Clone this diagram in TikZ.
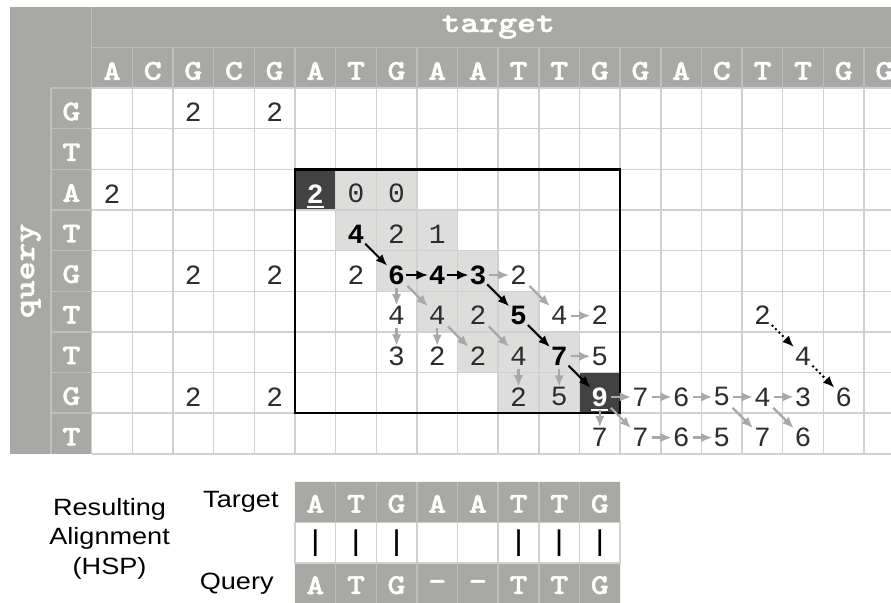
\documentclass[tikz,border=0pt]{standalone}
\usepackage{fontspec}
\setmainfont{Liberation Sans}[FakeStretch=1.15]
\setmonofont{Liberation Mono}
\newfontfamily\slabfont{lmmonolt10-bold.otf}[FakeStretch=1.2, FakeBold=1.6]
\usetikzlibrary{arrows.meta,positioning}
\definecolor{hdrGray}{RGB}{168,168,165}
\definecolor{hdrLine}{RGB}{190,190,187}
\definecolor{gridGray}{RGB}{208,208,208}
\definecolor{cellShade}{RGB}{221,221,219}
\definecolor{cellDark}{RGB}{66,66,64}
\definecolor{arrowGray}{RGB}{168,168,168}
\definecolor{numGray}{RGB}{45,45,45}
\newcommand{\hitmark}[1]{\setbox0=\hbox{#1}\rlap{\smash{\rule[-3.5pt]{\wd0}{1.4pt}}}\box0}

\begin{document}
\begin{tikzpicture}[x=1cm, y=-1cm,
    seqletter/.style={font=\slabfont\fontsize{20}{20}\selectfont, text=white, inner sep=1pt},
    seqname/.style={font=\slabfont\fontsize{21}{21}\selectfont, text=white, inner sep=1pt},
    cellnum/.style={font=\ttfamily\fontsize{19.5}{19.5}\selectfont, text=numGray, inner sep=0.5pt},
    pathnum/.style={cellnum, font=\ttfamily\bfseries\fontsize{19.5}{19.5}\selectfont, text=black},
    hitnum/.style={pathnum, text=white},
    pathstep/.style={-{Latex[length=2.8mm,width=2.3mm]}, line width=1.4pt},
    sidestep/.style={-{Latex[length=2.8mm,width=2.3mm]}, line width=1.6pt, color=arrowGray, shorten <=1.5pt},
    dotstep/.style={pathstep, dotted},
    matchbar/.style={font=\fontsize{20}{20}\selectfont, inner sep=0pt},
    sidetext/.style={font=\fontsize{16.5}{20.5}\selectfont, align=center}
  ]
  \useasboundingbox (-2.256,-2.165) rectangle (19.663,12.645);
  % header bands
  \fill[hdrGray] (-2,-2) rectangle (20,0);
  \fill[hdrGray] (-2,0) rectangle (0,9);
  \foreach \r/\c in {2/6, 2/7, 3/6, 3/7, 3/8, 4/7, 4/8, 4/9, 5/8, 5/9, 5/10,
                     6/9, 6/10, 6/11, 7/10, 7/11} {
    \fill[cellShade] (\c,\r) rectangle ++(1,1);
  }
  \foreach \r/\c in {2/5, 7/12} {
    \fill[cellDark] (\c,\r) rectangle ++(1,1);
  }
  \draw[gridGray, line width=1pt] (0,0) grid (20,9);
  \draw[hdrLine, line width=1pt] (0,-2) -- (0,0) (0,-1) -- (20,-1) (-1,0) -- (-1,9);
  \foreach \c in {1,...,19} {
    \draw[hdrLine, line width=1pt] (\c,-1) -- (\c,0);
  }
  \foreach \r in {0,...,8} {
    \draw[hdrLine, line width=1pt] (-1,\r) -- (0,\r);
  }
  \draw[line width=1.8pt] (5,2) rectangle (13,8);

  % sequences
  \node[seqname] (tgtname) at (10,-1.5) {target};
  \node[seqname, rotate=90] (qryname) at (-1.5,4.5) {query};
  \foreach \b [count=\i from 0] in {A,C,G,C,G,A,T,G,A,A,T,T,G,G,A,C,T,T,G,G} {
    \node[seqletter] (t\i) at (\i+0.5,-0.42) {\b};
  }
  \foreach \b [count=\i from 0] in {G,T,A,T,G,T,T,G,T} {
    \node[seqletter] (q\i) at (-0.5,\i+0.58) {\b};
  }

  % scores
  \foreach \r/\c/\v in {0/2/2, 0/4/2, 2/0/2, 2/6/0, 2/7/0, 3/7/2, 3/8/1, 4/2/2, 4/4/2,
                        4/6/2, 4/10/2, 5/7/4, 5/8/4, 5/9/2, 5/11/4, 5/12/2, 5/16/2,
                        6/7/3, 6/8/2, 6/9/2, 6/10/4, 6/12/5, 6/17/4, 7/2/2, 7/4/2,
                        7/10/2, 7/11/5, 7/13/7, 7/14/6, 7/15/5, 7/16/4, 7/17/3, 7/18/6,
                        8/12/7, 8/13/7, 8/14/6, 8/15/5, 8/16/7, 8/17/6} {
    \node[cellnum] (n\r-\c) at (\c+0.5,\r+0.6) {\v};
  }
  \foreach \r/\c/\v in {3/6/4, 4/7/6, 4/8/4, 4/9/3, 5/10/5, 6/11/7} {
    \node[pathnum] (n\r-\c) at (\c+0.5,\r+0.6) {\v};
  }
  \foreach \r/\c/\v in {2/5/2, 7/12/9} {
    \node[hitnum] (n\r-\c) at (\c+0.5,\r+0.6) {\hitmark{\v}};
  }

  % extension steps
  \foreach \a/\b in {4-9/4-10, 4-10/5-11, 5-11/5-12, 4-7/5-7, 4-7/5-8, 5-7/6-7,
                     5-8/6-8, 5-8/6-9, 5-9/6-10, 6-10/7-10, 6-11/7-11, 6-11/6-12,
                     7-12/7-13, 7-13/7-14, 7-14/7-15, 7-15/7-16, 7-16/7-17,
                     7-12/8-12, 7-12/8-13, 8-13/8-14, 8-14/8-15, 7-15/8-16, 7-16/8-17} {
    \draw[sidestep] (n\a) -- (n\b);
  }
  \foreach \a/\b in {3-6/4-7, 4-7/4-8, 4-8/4-9, 4-9/5-10, 5-10/6-11, 6-11/7-12} {
    \draw[pathstep] (n\a) -- (n\b);
  }
  \foreach \a/\b in {5-16/6-17, 6-17/7-18} {
    \draw[dotstep] (n\a) -- (n\b);
  }

  % resulting alignment
  \fill[hdrGray] (5,9.69) rectangle (13,10.69) (5,11.69) rectangle (13,12.7);
  \draw[gridGray, line width=1pt] (5,10.69) rectangle (13,11.69);
  \foreach \i in {6,...,12} {
    \draw[hdrLine, line width=1pt] (\i,9.69) -- (\i,10.69) (\i,11.69) -- (\i,12.7);
    \draw[gridGray, line width=1pt] (\i,10.69) -- (\i,11.69);
  }
  \foreach \b/\m/\g [count=\i from 0] in {A/|/A, T/|/T, G/|/G, A/ /-, A/ /-, T/|/T, T/|/T, G/|/G} {
    \node[seqletter] (at\i) at (\i+5.5,10.23) {\b};
    \node[matchbar] (am\i) at (\i+5.5,11.19) {\m};
    \node[seqletter] (aq\i) at (\i+5.5,12.23) {\g};
  }
  \node[sidetext, anchor=east] (tgtlabel) at (4.72,10.19) {Target};
  \node[sidetext, anchor=east] (qrylabel) at (4.6,12.2) {Query};
  \node[sidetext] (hsplabel) at (0.44,11.09) {Resulting\\Alignment\\(HSP)};
\end{tikzpicture}
\end{document}
